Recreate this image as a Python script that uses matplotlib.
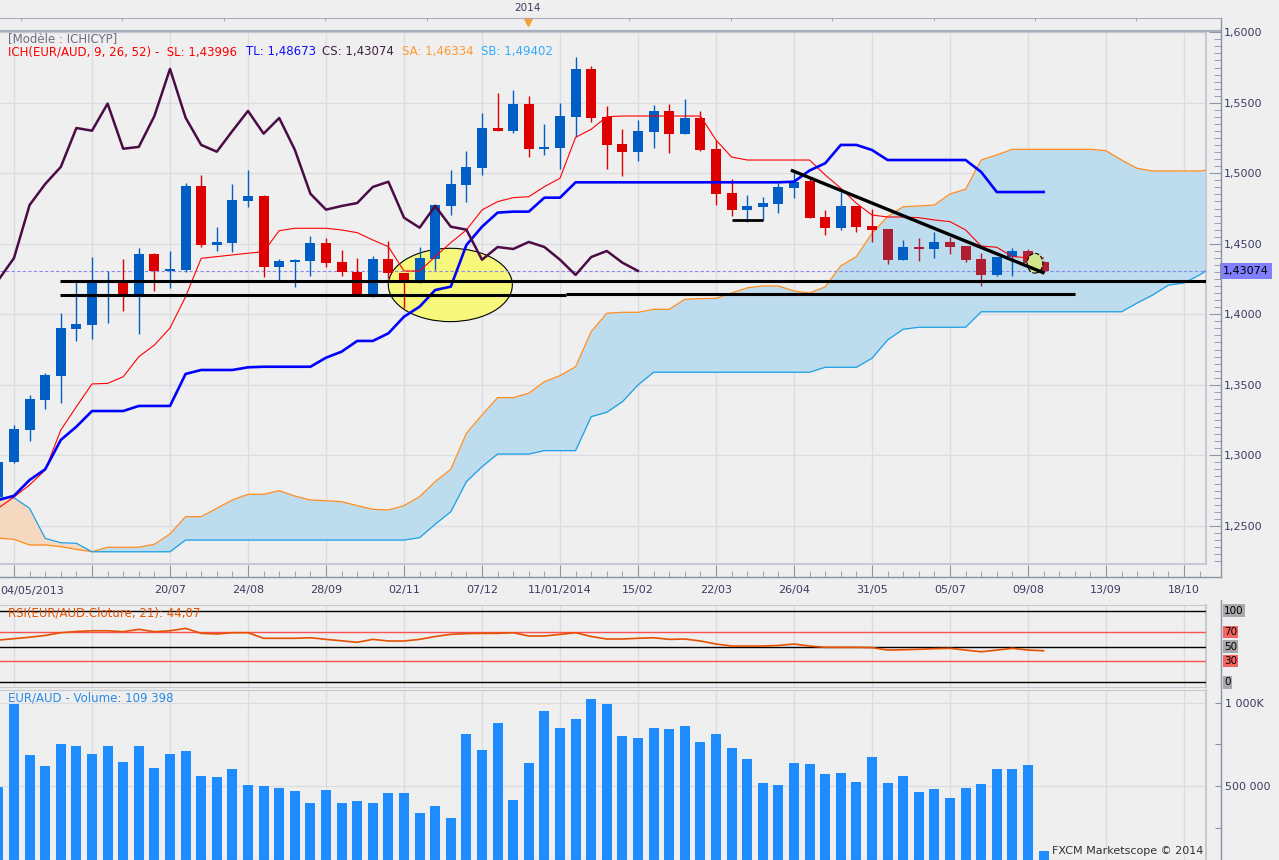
import matplotlib
matplotlib.use("Agg")
import matplotlib.pyplot as plt
import numpy as np
from matplotlib.lines import Line2D
from matplotlib.patches import Ellipse, Rectangle
from matplotlib.ticker import FuncFormatter
from matplotlib.transforms import blended_transform_factory

# weekly EUR/AUD bars, week 0 = 11/05/2013, first (half visible) bar is week -1
first_week = -1
opens = [1.2704, 1.2955, 1.3179, 1.3394, 1.3565, 1.3898, 1.3926, 1.4222, 1.4234, 1.4144,
         1.4428, 1.4305, 1.4314, 1.4910, 1.4491, 1.4508, 1.4806, 1.4839, 1.4338, 1.4373,
         1.4380, 1.4506, 1.4371, 1.4302, 1.4144, 1.4392, 1.4291, 1.4238, 1.4392, 1.4770,
         1.4917, 1.5040, 1.5321, 1.5300, 1.5491, 1.5174, 1.5182, 1.5401, 1.5740, 1.5399,
         1.5208, 1.5153, 1.5295, 1.5442, 1.5281, 1.5392, 1.5172, 1.4860, 1.4742, 1.4763,
         1.4784, 1.4898, 1.4945, 1.4690, 1.4614, 1.4768, 1.4626, 1.4605, 1.4387, 1.4477,
         1.4465, 1.4513, 1.4484, 1.4392, 1.4279, 1.4406, 1.4449, 1.4371]
highs = [1.2975, 1.3215, 1.3428, 1.3586, 1.4009, 1.4231, 1.4409, 1.4307, 1.4392, 1.4470,
         1.4432, 1.4449, 1.4933, 1.4988, 1.4619, 1.4924, 1.5023, 1.4845, 1.4392, 1.4390,
         1.4555, 1.4541, 1.4456, 1.4399, 1.4413, 1.4520, 1.4295, 1.4477, 1.4782, 1.5023,
         1.5160, 1.5430, 1.5570, 1.5591, 1.5550, 1.5350, 1.5501, 1.5827, 1.5763, 1.5477,
         1.5314, 1.5378, 1.5484, 1.5491, 1.5525, 1.5442, 1.5234, 1.4962, 1.4846, 1.4832,
         1.4933, 1.5018, 1.4976, 1.4740, 1.4867, 1.4770, 1.4747, 1.4607, 1.4527, 1.4543,
         1.4586, 1.4546, 1.4486, 1.4435, 1.4408, 1.4472, 1.4461, 1.4375]
lows = [1.2680, 1.2943, 1.3104, 1.3331, 1.3373, 1.3813, 1.3827, 1.3940, 1.4023, 1.3862,
        1.4167, 1.4189, 1.4302, 1.4475, 1.4451, 1.4444, 1.4763, 1.4261, 1.4243, 1.4196,
        1.4274, 1.4338, 1.4274, 1.4140, 1.4125, 1.4255, 1.4043, 1.4220, 1.4314, 1.4706,
        1.4799, 1.4988, 1.5300, 1.5288, 1.5118, 1.5132, 1.5033, 1.5260, 1.5366, 1.5028,
        1.4983, 1.5089, 1.5182, 1.5146, 1.5278, 1.5160, 1.4777, 1.4699, 1.4657, 1.4669,
        1.4721, 1.4827, 1.4683, 1.4565, 1.4600, 1.4586, 1.4515, 1.4359, 1.4385, 1.4380,
        1.4401, 1.4430, 1.4373, 1.4203, 1.4274, 1.4274, 1.4364, 1.4298]
closes = [1.2952, 1.3187, 1.3399, 1.3570, 1.3903, 1.3933, 1.4234, 1.4229, 1.4144, 1.4428,
          1.4305, 1.4321, 1.4910, 1.4491, 1.4513, 1.4811, 1.4839, 1.4338, 1.4378, 1.4385,
          1.4506, 1.4366, 1.4298, 1.4144, 1.4392, 1.4291, 1.4243, 1.4399, 1.4775, 1.4924,
          1.5045, 1.5321, 1.5302, 1.5494, 1.5174, 1.5187, 1.5406, 1.5740, 1.5394, 1.5201,
          1.5153, 1.5300, 1.5442, 1.5281, 1.5392, 1.5167, 1.4855, 1.4742, 1.4768, 1.4789,
          1.4903, 1.4940, 1.4685, 1.4614, 1.4768, 1.4621, 1.4600, 1.4387, 1.4477, 1.4463,
          1.4513, 1.4477, 1.4387, 1.4279, 1.4406, 1.4449, 1.4366, 1.43074]

# Ichimoku lines
tenkan = [1.2626, 1.2704, 1.2790, 1.2895, 1.3179, 1.3345, 1.3506, 1.3510, 1.3557, 1.3699,
          1.3782, 1.3903, 1.4125, 1.4397, 1.4409, 1.4421, 1.4433, 1.4444, 1.4593, 1.4610,
          1.4610, 1.4610, 1.4598, 1.4579, 1.4527, 1.4479, 1.4307, 1.4307, 1.4409, 1.4508,
          1.4598, 1.4740, 1.4799, 1.4827, 1.4834, 1.4905, 1.4965, 1.5255, 1.5312, 1.5401,
          1.5406, 1.5406, 1.5406, 1.5406, 1.5406, 1.5406, 1.5236, 1.5115, 1.5094, 1.5094,
          1.5094, 1.5094, 1.5094, 1.4988, 1.4894, 1.4787, 1.4704, 1.4690, 1.4690, 1.4685,
          1.4669, 1.4657, 1.4598, 1.4484, 1.4475, 1.4409, 1.4401, 1.43996]
kijun = [1.2683, 1.2713, 1.2825, 1.2901, 1.3109, 1.3203, 1.3314, 1.3314, 1.3314, 1.3350,
         1.3350, 1.3350, 1.3577, 1.3605, 1.3605, 1.3605, 1.3624, 1.3628, 1.3628, 1.3628,
         1.3628, 1.3692, 1.3735, 1.3811, 1.3811, 1.3865, 1.3983, 1.4054, 1.4172, 1.4196,
         1.4491, 1.4621, 1.4721, 1.4728, 1.4728, 1.4827, 1.4827, 1.4936, 1.4936, 1.4936,
         1.4936, 1.4936, 1.4936, 1.4936, 1.4936, 1.4936, 1.4936, 1.4936, 1.4936, 1.4936,
         1.4936, 1.4940, 1.5020, 1.5071, 1.5201, 1.5201, 1.5165, 1.5094, 1.5094, 1.5094,
         1.5094, 1.5094, 1.5094, 1.5009, 1.4867, 1.4867, 1.4867, 1.48673]
senkou_a = [1.2413, 1.2404, 1.2364, 1.2364, 1.2352, 1.2333, 1.2316, 1.2348, 1.2348, 1.2348,
            1.2369, 1.2442, 1.2565, 1.2565, 1.2624, 1.2683, 1.2723, 1.2723, 1.2749, 1.2711,
            1.2683, 1.2678, 1.2671, 1.2643, 1.2617, 1.2612, 1.2643, 1.2706, 1.2813, 1.2901,
            1.3156, 1.3286, 1.3409, 1.3409, 1.3440, 1.3522, 1.3565, 1.3628, 1.3877, 1.4007,
            1.4014, 1.4014, 1.4035, 1.4035, 1.4106, 1.4111, 1.4113, 1.4151, 1.4187, 1.4201,
            1.4201, 1.4165, 1.4151, 1.4194, 1.4343, 1.4409, 1.4574, 1.4692, 1.4763, 1.4768,
            1.4775, 1.4853, 1.4887, 1.5094, 1.5130, 1.5170, 1.5170, 1.5170, 1.5170, 1.5170,
            1.5170, 1.5160, 1.5094, 1.5035, 1.5016, 1.5016, 1.5016, 1.5016, 1.5030]
senkou_b = [1.2697, 1.2699, 1.2624, 1.2411, 1.2380, 1.2376, 1.2316, 1.2316, 1.2316, 1.2316,
            1.2316, 1.2316, 1.2399, 1.2399, 1.2399, 1.2399, 1.2399, 1.2399, 1.2399, 1.2399,
            1.2399, 1.2399, 1.2399, 1.2399, 1.2399, 1.2399, 1.2399, 1.2416, 1.2511, 1.2600,
            1.2813, 1.2919, 1.3009, 1.3009, 1.3009, 1.3033, 1.3033, 1.3033, 1.3274, 1.3305,
            1.3380, 1.3499, 1.3589, 1.3589, 1.3589, 1.3589, 1.3589, 1.3589, 1.3589, 1.3589,
            1.3589, 1.3589, 1.3589, 1.3624, 1.3624, 1.3624, 1.3688, 1.3818, 1.3894, 1.3908,
            1.3908, 1.3908, 1.3908, 1.4018, 1.4018, 1.4018, 1.4018, 1.4018, 1.4018, 1.4018,
            1.4018, 1.4018, 1.4018, 1.4080, 1.4137, 1.4207, 1.4222, 1.4279, 1.4350]
chikou_shift = 26
header_sa = 1.46334
header_sb = 1.49402

rsi = [59.0, 61.0, 63.0, 65.5, 69.3, 71.0, 72.0, 72.0, 70.7, 74.0,
       70.7, 72.0, 75.4, 68.4, 67.5, 69.3, 69.3, 61.5, 61.5, 61.5,
       62.3, 60.0, 58.0, 55.9, 60.0, 57.7, 57.7, 60.0, 64.0, 67.0,
       68.0, 68.4, 68.4, 69.3, 64.7, 64.7, 67.0, 69.3, 64.0, 60.5,
       60.5, 61.5, 62.3, 60.0, 60.5, 57.7, 53.5, 50.7, 50.7, 50.7,
       51.5, 53.5, 50.7, 48.9, 48.9, 48.9, 48.5, 45.1, 45.5, 46.1,
       47.0, 47.5, 45.0, 42.7, 45.0, 47.5, 45.1, 44.07]
rsi_levels = [100, 70, 50, 30, 0]

volumes = [496000, 992000, 688000, 622000, 752000, 742000, 692000, 742000, 644000, 742000,
           610000, 692000, 710000, 560000, 554000, 602000, 506000, 500000, 488000, 470000,
           400000, 476000, 400000, 410000, 400000, 460000, 460000, 340000, 380000, 310000,
           812000, 716000, 880000, 416000, 638000, 952000, 850000, 904000, 1024000, 992000,
           800000, 790000, 850000, 844000, 860000, 764000, 812000, 730000, 662000, 520000,
           506000, 638000, 632000, 570000, 578000, 524000, 676000, 520000, 560000, 466000,
           482000, 430000, 490000, 514000, 602000, 602000, 628000, 109398]

date_ticks = [10, 15, 20, 25, 30, 35, 40, 45, 50, 55, 60, 65, 70, 75]
date_labels = ['20/07', '24/08', '28/09', '02/11', '07/12', '11/01/2014', '15/02',
               '22/03', '26/04', '31/05', '05/07', '09/08', '13/09', '18/10']
first_date_label = '04/05/2013'
year_week = 32.95

# hand drawn objects on the chart (week, price)
support_lines = [(1.4236, 2.95, 76.41), (1.4139, 2.95, 35.4), (1.4143, 35.4, 68.0)]
base_line = (1.4669, 46.0, 48.0)
trend_weeks = [49.9, 65.96]
trend_prices = [1.5018, 1.4296]
zone_center, zone_size = (27.97, 1.4208), (7.95, 0.052)
mark_center, mark_size = (65.45, 1.4362), (1.0, 0.014)

W, H, DPI = 1279, 860, 100
PX = 72 / DPI


def fig_box(left, top, right, bottom):
    return [left / W, 1 - bottom / H, (right - left) / W, (bottom - top) / H]


def fig_xy(px, py):
    return px / W, 1 - py / H


def comma(v, nd):
    return f'{v:.{nd}f}'.replace('.', ',')


BG = '#efefef'
GRID = '#dcdde2'
FRAME = '#8c94a8'
BORDER = '#c6cad4'
TXT = '#3c3c64'
BLUE = '#005ec4'
RED = '#dd0000'
DARK_RED = '#b01e32'

plt.rcParams['font.family'] = 'DejaVu Sans'

fig = plt.figure(figsize=(W / DPI, H / DPI), dpi=DPI, facecolor=BG)
ax = fig.add_axes(fig_box(0, 31.7, 1206, 564.3))
ax_rsi = fig.add_axes(fig_box(0, 605, 1206, 686.7))
ax_vol = fig.add_axes(fig_box(0, 690, 1206, 860))
ax_nav = fig.add_axes(fig_box(0, 18.3, 1221, 30.7))

weeks = np.arange(len(closes)) + first_week
cloud_weeks = np.arange(len(senkou_a)) + first_week
x_lo, x_hi = -14 / 15.6, (1206 - 14) / 15.6

for a in (ax, ax_rsi, ax_vol):
    a.set_facecolor(BG)
    a.set_xlim(x_lo, x_hi)
    a.spines['left'].set_visible(False)
    a.spines['top'].set_color(BORDER)
    a.spines['bottom'].set_color(BORDER)
    a.spines['right'].set_position(('outward', 15 * PX))
    a.spines['right'].set_color(FRAME)
    a.yaxis.tick_right()
    a.set_xticks(np.arange(0, 76, 5))
    a.grid(axis='x', color=GRID, lw=1)
    a.set_axisbelow(True)
    a.axvline(x_hi, color=BORDER, lw=1.5, clip_on=False)
for a in (ax_rsi, ax_vol):
    a.tick_params(axis='x', bottom=False, labelbottom=False)

# ---- main price panel ----
ax.set_ylim(1.2227, 1.6004)
ax.set_yticks(np.arange(1.25, 1.6001, 0.05))
ax.set_yticks(np.arange(1.225, 1.6001, 0.005), minor=True)
ax.yaxis.set_major_formatter(FuncFormatter(lambda v, p: comma(v, 4)))
ax.tick_params(axis='y', which='major', direction='in', length=12 * PX, color=FRAME,
               labelsize=8, labelcolor=TXT, pad=2)
ax.tick_params(axis='y', which='minor', direction='in', length=7 * PX, color=FRAME)
ax.grid(axis='y', which='major', color=GRID, lw=1)

ax.spines['bottom'].set_position(('outward', 12.4 * PX))
ax.spines['bottom'].set_color(FRAME)
ax.set_xticks(np.arange(0, 76, 5), [''] * 2 + date_labels)
ax.set_xticks(np.arange(0, 77), minor=True)
ax.tick_params(axis='x', which='major', direction='in', length=12.4 * PX, color=FRAME,
               labelsize=8, labelcolor=TXT, pad=6)
ax.tick_params(axis='x', which='minor', direction='in', length=5.7 * PX, color=FRAME)
ax.axhline(1.2227, color=BORDER, lw=1.5, clip_on=False)
ax.axhline(1.6004, color=BORDER, lw=1.5, clip_on=False)

sa = np.array(senkou_a)
sb = np.array(senkou_b)
ax.fill_between(cloud_weeks, sa, sb, where=sa >= sb, interpolate=True, color='#bddcee', lw=0, zorder=1)
ax.fill_between(cloud_weeks, sa, sb, where=sa < sb, interpolate=True, color='#f5d8c0', lw=0, zorder=1)
ax.plot(cloud_weeks, sa, color='#ff8c1e', lw=0.9, zorder=3)
ax.plot(cloud_weeks, sb, color='#1ea0e6', lw=0.9, zorder=3)

ax.add_patch(Ellipse(zone_center, zone_size[0], zone_size[1], facecolor='#f7f77c',
                     edgecolor='black', lw=0.8, zorder=2))
ax.axhline(closes[-1], color='#8a8aee', ls=(0, (3, 2)), lw=0.8, zorder=3)

for k, o, h, l, c in zip(weeks, opens, highs, lows, closes):
    i = k - first_week
    col = BLUE if c >= o else RED
    mid = (o + c) / 2
    if c < o and min(sa[i], sb[i]) < mid < max(sa[i], sb[i]):
        col = DARK_RED
    ax.vlines(k, l, h, color=col, lw=1, zorder=4)
    ax.add_patch(Rectangle((k - 0.32, min(o, c)), 0.64, max(abs(c - o), 0.0012),
                           facecolor=col, edgecolor='none', zorder=5))

ax.plot(weeks, tenkan, color='#ff0000', lw=0.8, zorder=6)
ax.plot(weeks, kijun, color='#0000ff', lw=1.9, zorder=6)
ax.plot(weeks[:len(closes) - chikou_shift], closes[chikou_shift:], color='#4b0c45', lw=1.8, zorder=6)

for lvl, x0, x1 in support_lines:
    ax.hlines(lvl, x0, x1, color='black', lw=2.2, zorder=7)
ax.hlines(base_line[0], base_line[1], base_line[2], color='black', lw=2, zorder=7)
ax.add_patch(Ellipse(mark_center, mark_size[0], mark_size[1], facecolor='#d4e68c',
                     edgecolor='black', ls='--', lw=0.8, zorder=7))
ax.plot(trend_weeks, trend_prices, color='black', lw=2.4, zorder=8)

tr = blended_transform_factory(ax.transAxes, ax.transData)
ax.text(1223 / 1206, closes[-1], comma(closes[-1], 5), transform=tr, ha='left', va='center',
        fontsize=8, color='black', zorder=10,
        bbox=dict(boxstyle='square,pad=0.25', fc='#8080ff', ec='none'))

fig.text(*fig_xy(8, 38.7), '[Modèle : ICHICYP]', color='#6e6e82', fontsize=8.5, va='center')
header = [(8, f'ICH(EUR/AUD, 9, 26, 52) -  SL: {comma(tenkan[-1], 5)}', '#ff0000'),
          (246, f'TL: {comma(kijun[-1], 5)}', '#1010ff'),
          (322, f'CS: {comma(closes[-1], 5)}', '#402040'),
          (402, f'SA: {comma(header_sa, 5)}', '#ff9933'),
          (481, f'SB: {comma(header_sb, 5)}', '#33aaff')]
for px, s, col in header:
    fig.text(*fig_xy(px, 51.7), s, color=col, fontsize=8.5, va='center')
fig.text(*fig_xy(0.5, 591), first_date_label, color=TXT, fontsize=8, ha='left', va='center')

# ---- navigation strip on top ----
ax_nav.set_facecolor(BG)
ax_nav.set_xlim(x_lo, (1221 - 14) / 15.6)
ax_nav.set_ylim(0, 1)
for s in ('left', 'right'):
    ax_nav.spines[s].set_visible(False)
ax_nav.spines['top'].set_color('#a8b0c0')
ax_nav.spines['bottom'].set_color('#a8b0c0')
ax_nav.spines['bottom'].set_linewidth(1.6)
ax_nav.set_yticks([])
ax_nav.set_xticks(np.arange(0.45, 77, 6.5))
ax_nav.tick_params(axis='x', direction='in', length=3 * PX, top=True, bottom=False,
                   labelbottom=False, color='#a8b0c0')
ax_nav.plot(year_week, 0.7, marker='v', ms=6, color='#f5a030', clip_on=False)
fig.text(*fig_xy(527.5, 8), '2014', color=TXT, fontsize=7.5, ha='center', va='center')

# ---- RSI panel ----
ax_rsi.set_ylim(-6.1, 108)
ax_rsi.tick_params(axis='y', right=False, labelright=False)
for lvl in rsi_levels:
    ax_rsi.axhline(lvl, color='black' if lvl in (0, 50, 100) else '#ff5050', lw=1, zorder=2)
ax_rsi.plot(weeks, rsi, color='#e65000', lw=1.2, zorder=3)
tr_r = blended_transform_factory(ax_rsi.transAxes, ax_rsi.transData)
for lvl in rsi_levels:
    fc = '#a8a8a8' if lvl in (0, 50, 100) else '#f46464'
    ax_rsi.text(1224 / 1206, lvl, str(lvl), transform=tr_r, ha='left', va='center', fontsize=7.5,
                color='black', bbox=dict(boxstyle='square,pad=0.12', fc=fc, ec='none'))
fig.text(*fig_xy(8, 613), f'RSI(EUR/AUD.Cloture, 21): {comma(rsi[-1], 2)}', color='#e65000',
         fontsize=8.5, va='center')

# ---- volume panel ----
ax_vol.set_ylim(55800, 1076000)
ax_vol.bar(weeks, volumes, width=0.64, color='#1e8cff', zorder=3)
ax_vol.set_yticks([250000, 500000, 750000, 1000000], ['', '500 000', '', '1 000K'])
ax_vol.tick_params(axis='y', direction='in', length=6 * PX, color=FRAME, labelsize=8,
                   labelcolor=TXT, pad=3)
for lvl in (500000, 1000000):
    ax_vol.axhline(lvl, color=GRID, lw=1, zorder=1)
vol_txt = f'{volumes[-1]:,}'.replace(',', ' ')
fig.text(*fig_xy(8, 698.3), f'EUR/AUD - Volume: {vol_txt}', color='#2a8ae6', fontsize=8.5, va='center')
fig.text(*fig_xy(1052, 851), 'FXCM Marketscope © 2014', color='#303030', fontsize=8, va='center')

# outer axis frame lines
fig.add_artist(Line2D([1221 / W] * 2, [fig_xy(0, 18.3)[1], fig_xy(0, 576.7)[1]], color=FRAME, lw=1))
fig.add_artist(Line2D([0, 1221 / W], [fig_xy(0, 576.7)[1]] * 2, color=FRAME, lw=1))
fig.add_artist(Line2D([1221 / W] * 2, [fig_xy(0, 600)[1], 0], color=FRAME, lw=1))

fig.savefig('out.png', dpi=DPI, facecolor=BG)
